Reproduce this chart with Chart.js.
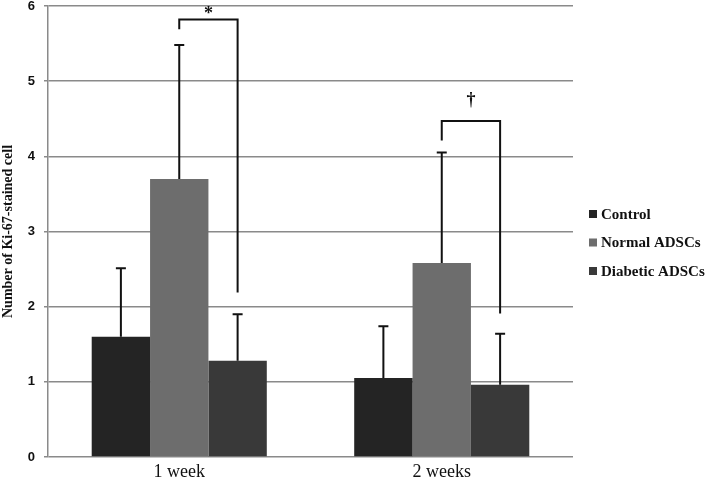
<!DOCTYPE html>
<html>
<head>
<meta charset="utf-8">
<script src="https://cdn.jsdelivr.net/npm/chart.js@4.4.1/dist/chart.umd.min.js"></script>
<style>
  html, body { margin: 0; padding: 0; background: #fff; }
  #wrap { width: 709px; height: 478px; }
</style>
</head>
<body>
<div id="wrap"><canvas id="ki67Chart" width="709" height="478"></canvas></div>
<script>
const categories = ['1 week', '2 weeks'];
const seriesNames = ['Control', 'Normal ADSCs', 'Diabetic ADSCs'];
const seriesColors = ['#242424', '#6d6d6d', '#393939'];

const controlMeans = [1.60, 1.05];
const normalMeans = [3.70, 2.58];
const diabeticMeans = [1.28, 0.96];

// top of the error bars (mean + SD)
const controlUpper = [2.51, 1.74];
const normalUpper = [5.48, 4.05];
const diabeticUpper = [1.90, 1.64];

// significance brackets: Normal vs Diabetic in each group
const bracketStart = [5.69, 4.21];
const bracketTop = [5.82, 4.47];
const bracketEnd = [2.19, 1.91];
const bracketMarks = ['*', '†'];

const yTicks = [0, 1, 2, 3, 4, 5, 6];

const errorBars = {
    id: 'errorBars',
    afterDatasetsDraw(chart) {
        const ctx = chart.ctx;
        const y = chart.scales.y;
        const uppers = [controlUpper, normalUpper, diabeticUpper];
        ctx.save();
        ctx.strokeStyle = '#111';
        ctx.lineWidth = 2;
        uppers.forEach((up, di) => {
            const meta = chart.getDatasetMeta(di);
            meta.data.forEach((bar, i) => {
                const yTop = y.getPixelForValue(up[i]);
                ctx.beginPath();
                ctx.moveTo(bar.x, bar.y);
                ctx.lineTo(bar.x, yTop);
                ctx.moveTo(bar.x - 5, yTop);
                ctx.lineTo(bar.x + 5, yTop);
                ctx.stroke();
            });
        });

        // brackets
        const normal = chart.getDatasetMeta(1).data;
        const diabetic = chart.getDatasetMeta(2).data;
        categories.forEach((c, i) => {
            const x1 = normal[i].x;
            const x2 = diabetic[i].x;
            const yt = y.getPixelForValue(bracketTop[i]);
            ctx.beginPath();
            ctx.moveTo(x1, y.getPixelForValue(bracketStart[i]));
            ctx.lineTo(x1, yt);
            ctx.lineTo(x2, yt);
            ctx.lineTo(x2, y.getPixelForValue(bracketEnd[i]));
            ctx.stroke();

            ctx.fillStyle = '#111';
            ctx.textAlign = 'center';
            ctx.textBaseline = 'alphabetic';
            ctx.font = 'bold 18px "Liberation Serif"';
            ctx.fillText(bracketMarks[i], (x1 + x2) / 2, yt - (i === 0 ? 1 : 16));
        });
        ctx.restore();
    }
};

const sideLegend = {
    id: 'sideLegend',
    afterDraw(chart) {
        const ctx = chart.ctx;
        ctx.save();
        ctx.font = 'bold 15px "Liberation Serif"';
        ctx.textBaseline = 'middle';
        ctx.textAlign = 'left';
        seriesNames.forEach((name, i) => {
            const cy = 214 + i * 28.5;
            ctx.fillStyle = seriesColors[i];
            ctx.fillRect(589, cy - 4, 8, 8);
            ctx.fillStyle = '#111';
            ctx.fillText(name, 601, cy + 1);
        });
        ctx.restore();
    }
};

const ctx = document.getElementById('ki67Chart').getContext('2d');

new Chart(ctx, {
    type: 'bar',
    data: {
        labels: categories,
        datasets: [
            { label: seriesNames[0], data: controlMeans, backgroundColor: seriesColors[0] },
            { label: seriesNames[1], data: normalMeans, backgroundColor: seriesColors[1] },
            { label: seriesNames[2], data: diabeticMeans, backgroundColor: seriesColors[2] }
        ]
    },
    options: {
        responsive: false,
        animation: false,
        events: [],
        layout: { padding: { top: 6, right: 136, left: 0, bottom: 0 } },
        datasets: {
            bar: { categoryPercentage: 0.667, barPercentage: 1.0, borderWidth: 0 }
        },
        plugins: {
            legend: { display: false },
            tooltip: { enabled: false }
        },
        scales: {
            x: {
                grid: { display: false, drawTicks: false },
                border: { display: false },
                ticks: {
                    color: '#111',
                    padding: 4,
                    font: { family: '"Liberation Serif"', size: 18 }
                },
                afterFit(scale) { scale.height = 21; }
            },
            y: {
                min: 0,
                max: 6,
                afterBuildTicks(scale) {
                    scale.ticks = yTicks.map(v => ({ value: v }));
                },
                grid: { color: '#8a8a8a', lineWidth: 1.5, tickLength: 4 },
                border: { color: '#8a8a8a', width: 1.5 },
                ticks: {
                    color: '#111',
                    padding: 9,
                    font: { family: '"Liberation Sans"', size: 13, weight: 'bold' }
                },
                title: {
                    display: true,
                    text: 'Number of Ki-67-stained cell',
                    color: '#111',
                    padding: { top: 0, bottom: 0 },
                    font: { family: '"Liberation Serif"', size: 14, weight: 'bold' }
                },
                afterFit(scale) {
                    scale.width = 48;
                    scale.paddingTop = 0;
                    scale.paddingBottom = 0;
                }
            }
        }
    },
    plugins: [errorBars, sideLegend]
});
</script>
</body>
</html>
